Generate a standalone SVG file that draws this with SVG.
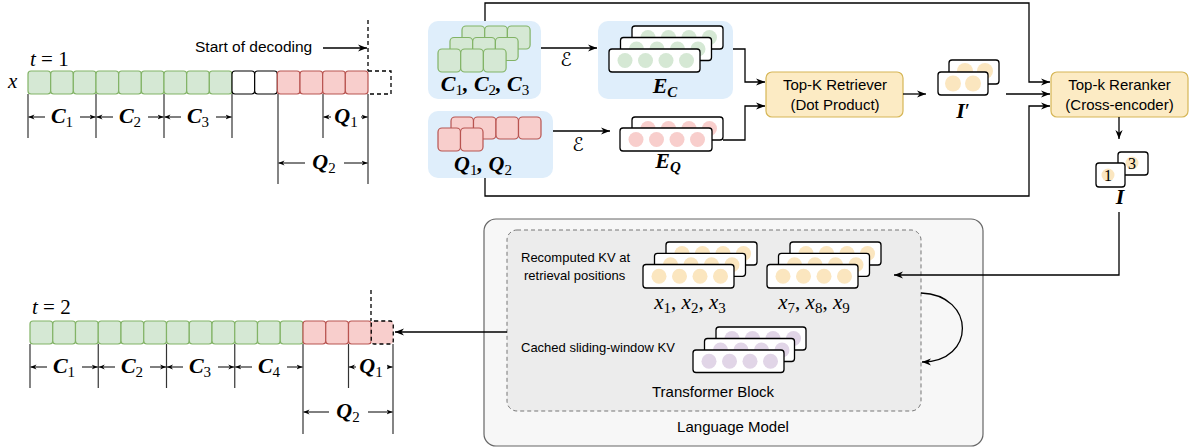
<svg xmlns="http://www.w3.org/2000/svg" width="1192" height="448" viewBox="0 0 1192 448">
<defs>
<marker id="ah" viewBox="0 0 10 10" refX="10" refY="5" markerWidth="9" markerHeight="9" markerUnits="userSpaceOnUse" orient="auto">
<path d="M0,1 L10,5 L0,9 L3,5 Z" fill="#000"/>
</marker>
<marker id="dh" viewBox="0 0 10 10" refX="10" refY="5" markerWidth="6" markerHeight="6" markerUnits="userSpaceOnUse" orient="auto">
<path d="M0,1 L10,5 L0,9 L3,5 Z" fill="#000"/>
</marker>
</defs>
<style>
.g{fill:#d5e8d4;stroke:#82b366;stroke-width:1.2}
.r{fill:#f8cecc;stroke:#b85450;stroke-width:1.2}
.w{fill:#fff;stroke:#000;stroke-width:1.2}
.dsh{fill:none;stroke:#000;stroke-width:1.3;stroke-dasharray:4,3}
.tick{stroke:#333;stroke-width:1.2}
.dim{stroke:#000;stroke-width:1;fill:none;marker-end:url(#dh)}
.m{font-family:"Liberation Serif","DejaVu Serif",serif;font-style:italic;font-weight:bold;font-size:22px;fill:#000}
.mi{font-family:"Liberation Serif","DejaVu Serif",serif;font-style:italic;font-size:21px;fill:#000}
.sub{font-style:normal;font-weight:normal;font-size:15px}
.subb{font-size:15px}
.up{font-style:normal;font-weight:normal}
.s{font-family:"Liberation Sans",Arial,sans-serif;fill:#000}
.c{stroke:#000;stroke-width:1.3;fill:none;marker-end:url(#ah)}
.blue{fill:#dfeefb;stroke:none}
.card{fill:#fff;stroke:#000;stroke-width:1.3}
.cg{fill:#d5e8d4}
.cr{fill:#f8cecc}
.cy{fill:#fbe6bf}
.cp{fill:#e1d5e7}
.box{fill:#fcebc4;stroke:#d6b656;stroke-width:1.2}
.eps{font-family:"DejaVu Sans",serif;font-size:19px}
</style>

<!-- t=1 sequence -->
<g id="seq1">
<text class="mi" x="8" y="88">x</text>
<text class="mi" x="30" y="66">t<tspan class="up"> = 1</tspan></text>
<text class="s" x="195" y="52" font-size="15.5">Start of decoding</text>
<line x1="368" y1="20" x2="368" y2="71" class="dsh" stroke-width="1"/>
<rect class="g" x="28" y="71" width="22.67" height="23" rx="3"/>
<rect class="g" x="50.67" y="71" width="22.67" height="23" rx="3"/>
<rect class="g" x="73.33" y="71" width="22.67" height="23" rx="3"/>
<rect class="g" x="96" y="71" width="22.67" height="23" rx="3"/>
<rect class="g" x="118.67" y="71" width="22.67" height="23" rx="3"/>
<rect class="g" x="141.33" y="71" width="22.67" height="23" rx="3"/>
<rect class="g" x="164" y="71" width="22.67" height="23" rx="3"/>
<rect class="g" x="186.67" y="71" width="22.67" height="23" rx="3"/>
<rect class="g" x="209.33" y="71" width="22.67" height="23" rx="3"/>
<rect class="w" x="232" y="71" width="22.67" height="23" rx="3"/>
<rect class="w" x="254.67" y="71" width="22.67" height="23" rx="3"/>
<rect class="r" x="277.33" y="71" width="22.67" height="23" rx="3"/>
<rect class="r" x="300" y="71" width="22.67" height="23" rx="3"/>
<rect class="r" x="322.67" y="71" width="22.67" height="23" rx="3"/>
<rect class="r" x="345.33" y="71" width="22.67" height="23" rx="3"/>
<path class="dsh" d="M368,71 H391 V94 H368"/>
<line class="tick" x1="28" y1="94" x2="28" y2="138"/>
<line class="tick" x1="96" y1="94" x2="96" y2="138"/>
<line class="tick" x1="164" y1="94" x2="164" y2="138"/>
<line class="tick" x1="232" y1="94" x2="232" y2="138"/>
<line class="tick" x1="323" y1="94" x2="323" y2="138"/>
<line class="tick" x1="278" y1="94" x2="278" y2="184"/>
<line class="tick" x1="368" y1="94" x2="368" y2="184"/>
<path class="dim" d="M45,117 H28.5"/><path class="dim" d="M80,117 H95.5"/>
<path class="dim" d="M113,117 H96.5"/><path class="dim" d="M148,117 H163.5"/>
<path class="dim" d="M181,117 H164.5"/><path class="dim" d="M216,117 H231.5"/>
<path class="dim" d="M331,117 H323.5"/><path class="dim" d="M361,117 H367.5"/>
<path class="dim" d="M305,163 H278.5"/><path class="dim" d="M344,163 H367.5"/>
<text class="m" x="62" y="123" text-anchor="middle">C<tspan class="sub" dy="4">1</tspan></text>
<text class="m" x="130" y="123" text-anchor="middle">C<tspan class="sub" dy="4">2</tspan></text>
<text class="m" x="198" y="123" text-anchor="middle">C<tspan class="sub" dy="4">3</tspan></text>
<text class="m" x="346" y="123" text-anchor="middle">Q<tspan class="sub" dy="4">1</tspan></text>
<text class="m" x="324" y="169" text-anchor="middle">Q<tspan class="sub" dy="4">2</tspan></text>
</g>

<!-- t=2 sequence -->
<g id="seq2">
<text class="mi" x="32" y="314">t<tspan class="up"> = 2</tspan></text>
<line x1="371" y1="290" x2="371" y2="321" class="dsh" stroke-width="1"/>
<rect class="g" x="30" y="321" width="22.75" height="23" rx="3"/>
<rect class="g" x="52.75" y="321" width="22.75" height="23" rx="3"/>
<rect class="g" x="75.5" y="321" width="22.75" height="23" rx="3"/>
<rect class="g" x="98.25" y="321" width="22.75" height="23" rx="3"/>
<rect class="g" x="121" y="321" width="22.75" height="23" rx="3"/>
<rect class="g" x="143.75" y="321" width="22.75" height="23" rx="3"/>
<rect class="g" x="166.5" y="321" width="22.75" height="23" rx="3"/>
<rect class="g" x="189.25" y="321" width="22.75" height="23" rx="3"/>
<rect class="g" x="212" y="321" width="22.75" height="23" rx="3"/>
<rect class="g" x="234.75" y="321" width="22.75" height="23" rx="3"/>
<rect class="g" x="257.5" y="321" width="22.75" height="23" rx="3"/>
<rect class="g" x="280.25" y="321" width="22.75" height="23" rx="3"/>
<rect class="r" x="303" y="321" width="22.75" height="23" rx="3"/>
<rect class="r" x="325.75" y="321" width="22.75" height="23" rx="3"/>
<rect class="r" x="348.5" y="321" width="22.75" height="23" rx="3"/>
<rect x="371.25" y="321" width="22" height="23" rx="3" fill="#f8cecc" stroke="#000" stroke-width="1.3" stroke-dasharray="4,3"/>
<line class="tick" x1="30" y1="344" x2="30" y2="388"/>
<line class="tick" x1="98.25" y1="344" x2="98.25" y2="388"/>
<line class="tick" x1="166.5" y1="344" x2="166.5" y2="388"/>
<line class="tick" x1="234.75" y1="344" x2="234.75" y2="388"/>
<line class="tick" x1="348.5" y1="344" x2="348.5" y2="388"/>
<line class="tick" x1="303" y1="344" x2="303" y2="434"/>
<line class="tick" x1="393" y1="344" x2="393" y2="434"/>
<path class="dim" d="M47,367 H30.5"/><path class="dim" d="M82,367 H97.75"/>
<path class="dim" d="M115,367 H98.75"/><path class="dim" d="M150,367 H166"/>
<path class="dim" d="M183,367 H167"/><path class="dim" d="M218,367 H234.25"/>
<path class="dim" d="M252,367 H235.25"/><path class="dim" d="M287,367 H302.5"/>
<path class="dim" d="M356,367 H349"/><path class="dim" d="M387,367 H392.5"/>
<path class="dim" d="M329,412 H303.5"/><path class="dim" d="M368,412 H392.5"/>
<text class="m" x="64" y="373" text-anchor="middle">C<tspan class="sub" dy="4">1</tspan></text>
<text class="m" x="132" y="373" text-anchor="middle">C<tspan class="sub" dy="4">2</tspan></text>
<text class="m" x="200" y="373" text-anchor="middle">C<tspan class="sub" dy="4">3</tspan></text>
<text class="m" x="269" y="373" text-anchor="middle">C<tspan class="sub" dy="4">4</tspan></text>
<text class="m" x="371" y="373" text-anchor="middle">Q<tspan class="sub" dy="4">1</tspan></text>
<text class="m" x="348" y="418" text-anchor="middle">Q<tspan class="sub" dy="4">2</tspan></text>
</g>

<!-- C chunks -->
<g id="chunks">
<rect class="blue" x="428" y="21" width="113" height="78" rx="10"/>
<rect class="g" x="462" y="26" width="22.7" height="23" rx="4"/>
<rect class="g" x="484.7" y="26" width="22.7" height="23" rx="4"/>
<rect class="g" x="507.4" y="26" width="22.7" height="23" rx="4"/>
<rect class="g" x="450" y="37.5" width="22.7" height="23" rx="4"/>
<rect class="g" x="472.7" y="37.5" width="22.7" height="23" rx="4"/>
<rect class="g" x="495.4" y="37.5" width="22.7" height="23" rx="4"/>
<rect class="g" x="438" y="49" width="22.7" height="23" rx="4"/>
<rect class="g" x="460.7" y="49" width="22.7" height="23" rx="4"/>
<rect class="g" x="483.4" y="49" width="22.7" height="23" rx="4"/>
<text class="m" x="485" y="91" text-anchor="middle">C<tspan class="sub" dy="4">1</tspan><tspan dy="-4">, C</tspan><tspan class="sub" dy="4">2</tspan><tspan dy="-4">, C</tspan><tspan class="sub" dy="4">3</tspan></text>
</g>

<!-- Q chunks -->
<g id="queries">
<rect class="blue" x="428" y="111" width="125" height="67" rx="10"/>
<rect class="r" x="451" y="117" width="22.5" height="22" rx="4"/>
<rect class="r" x="473.5" y="117" width="22.5" height="22" rx="4"/>
<rect class="r" x="496" y="117" width="22.5" height="22" rx="4"/>
<rect class="r" x="518.5" y="117" width="22.5" height="22" rx="4"/>
<rect class="r" x="438" y="128" width="22.5" height="23" rx="4"/>
<rect class="r" x="460.5" y="128" width="22.5" height="23" rx="4"/>
<text class="m" x="483" y="171" text-anchor="middle">Q<tspan class="sub" dy="4">1</tspan><tspan dy="-4">, Q</tspan><tspan class="sub" dy="4">2</tspan></text>
</g>

<!-- E_C -->
<g id="ec">
<rect class="blue" x="598" y="21" width="135" height="78" rx="10"/>
<rect class="card" x="632" y="26" width="91" height="23" rx="3"/>
<circle class="cg" cx="648" cy="37.5" r="7.5"/><circle class="cg" cx="668.5" cy="37.5" r="7.5"/><circle class="cg" cx="689" cy="37.5" r="7.5"/><circle class="cg" cx="709.5" cy="37.5" r="7.5"/>
<rect class="card" x="620.5" y="37.5" width="91" height="23" rx="3"/>
<circle class="cg" cx="636.5" cy="49" r="7.5"/><circle class="cg" cx="657" cy="49" r="7.5"/><circle class="cg" cx="677.5" cy="49" r="7.5"/><circle class="cg" cx="698" cy="49" r="7.5"/>
<rect class="card" x="609" y="49" width="91" height="23" rx="3"/>
<circle class="cg" cx="625" cy="60.5" r="7.5"/><circle class="cg" cx="645.5" cy="60.5" r="7.5"/><circle class="cg" cx="666" cy="60.5" r="7.5"/><circle class="cg" cx="686.5" cy="60.5" r="7.5"/>
<text class="m" x="665" y="93" text-anchor="middle">E<tspan class="subb" dy="4">C</tspan></text>
</g>

<!-- E_Q -->
<g id="eq">
<rect class="card" x="632" y="117" width="91" height="23" rx="3"/>
<circle class="cr" cx="648" cy="128.5" r="7.5"/><circle class="cr" cx="668.5" cy="128.5" r="7.5"/><circle class="cr" cx="689" cy="128.5" r="7.5"/><circle class="cr" cx="709.5" cy="128.5" r="7.5"/>
<rect class="card" x="620" y="128" width="92" height="23" rx="3"/>
<circle class="cr" cx="636" cy="139.5" r="7.5"/><circle class="cr" cx="656.5" cy="139.5" r="7.5"/><circle class="cr" cx="677" cy="139.5" r="7.5"/><circle class="cr" cx="697.5" cy="139.5" r="7.5"/>
<text class="m" x="668" y="168" text-anchor="middle">E<tspan class="subb" dy="4">Q</tspan></text>
</g>

<!-- Retriever -->
<g id="retriever">
<rect class="box" x="766" y="72" width="137" height="45" rx="6"/>
<text class="s" x="835" y="90" font-size="15" text-anchor="middle">Top-K Retriever</text>
<text class="s" x="835" y="110" font-size="15" text-anchor="middle">(Dot Product)</text>
</g>

<!-- I' -->
<g id="iprime">
<rect class="card" x="949" y="60" width="50" height="24" rx="3"/>
<circle class="cy" cx="965" cy="71" r="8"/><circle class="cy" cx="985" cy="71" r="8"/>
<rect class="card" x="938" y="72" width="50" height="23" rx="3"/>
<circle class="cy" cx="953" cy="83.5" r="8"/><circle class="cy" cx="973" cy="83.5" r="8"/>
<text class="m" x="963" y="118" text-anchor="middle">I<tspan class="up">′</tspan></text>
</g>

<!-- Reranker -->
<g id="reranker">
<rect class="box" x="1051" y="72" width="137" height="45" rx="6"/>
<text class="s" x="1119.5" y="90" font-size="15" text-anchor="middle">Top-k Reranker</text>
<text class="s" x="1119.5" y="110" font-size="15" text-anchor="middle">(Cross-encoder)</text>
</g>

<!-- I -->
<g id="iout">
<rect class="card" x="1118" y="152" width="30" height="23" rx="3"/>
<circle class="cy" cx="1132" cy="163" r="6.5"/>
<text x="1132" y="168.5" font-family="Liberation Serif,serif" font-size="16" text-anchor="middle">3</text>
<rect class="card" x="1096" y="163" width="29" height="24" rx="3"/>
<circle class="cy" cx="1108" cy="175" r="6.5"/>
<text x="1108" y="180.5" font-family="Liberation Serif,serif" font-size="16" text-anchor="middle">1</text>
<text class="m" x="1120" y="204" text-anchor="middle">I</text>
</g>

<!-- Language model -->
<g id="lm">
<rect x="484" y="219" width="499" height="227" rx="12" fill="#f7f7f7" stroke="#666" stroke-width="1.2"/>
<text class="s" x="733" y="432" font-size="15" text-anchor="middle" fill="#111">Language Model</text>
</g>
<g id="tblock">
<rect x="507" y="230" width="414" height="181" rx="10" fill="#ececec" stroke="#777" stroke-width="1" stroke-dasharray="4,3"/>
<text class="s" x="521" y="262" font-size="13">Recomputed KV at</text>
<text class="s" x="524" y="280" font-size="13">retrieval positions</text>
<text class="s" x="521" y="352" font-size="13">Cached sliding-window KV</text>
<text class="s" x="713" y="397" font-size="15" text-anchor="middle">Transformer Block</text>
</g>
<g id="kv1">
<rect class="card" x="666" y="242" width="91" height="23" rx="3"/>
<circle class="cy" cx="682" cy="253.5" r="7.5"/><circle class="cy" cx="702.5" cy="253.5" r="7.5"/><circle class="cy" cx="723" cy="253.5" r="7.5"/><circle class="cy" cx="743.5" cy="253.5" r="7.5"/>
<rect class="card" x="654.5" y="253.3" width="91" height="23" rx="3"/>
<circle class="cy" cx="670.5" cy="264.8" r="7.5"/><circle class="cy" cx="691" cy="264.8" r="7.5"/><circle class="cy" cx="711.5" cy="264.8" r="7.5"/><circle class="cy" cx="732" cy="264.8" r="7.5"/>
<rect class="card" x="643" y="264.5" width="91" height="23.5" rx="3"/>
<circle class="cy" cx="659" cy="276.2" r="7.5"/><circle class="cy" cx="679.5" cy="276.2" r="7.5"/><circle class="cy" cx="700" cy="276.2" r="7.5"/><circle class="cy" cx="720.5" cy="276.2" r="7.5"/>
<text class="mi" x="690" y="309" text-anchor="middle">x<tspan class="sub" dy="4">1</tspan><tspan class="up" dy="-4">, </tspan>x<tspan class="sub" dy="4">2</tspan><tspan class="up" dy="-4">, </tspan>x<tspan class="sub" dy="4">3</tspan></text>
</g>
<g id="kv2">
<rect class="card" x="790" y="242" width="91" height="23" rx="3"/>
<circle class="cy" cx="806" cy="253.5" r="7.5"/><circle class="cy" cx="826.5" cy="253.5" r="7.5"/><circle class="cy" cx="847" cy="253.5" r="7.5"/><circle class="cy" cx="867.5" cy="253.5" r="7.5"/>
<rect class="card" x="778.5" y="253.3" width="91" height="23" rx="3"/>
<circle class="cy" cx="794.5" cy="264.8" r="7.5"/><circle class="cy" cx="815" cy="264.8" r="7.5"/><circle class="cy" cx="835.5" cy="264.8" r="7.5"/><circle class="cy" cx="856" cy="264.8" r="7.5"/>
<rect class="card" x="767" y="264.5" width="91" height="23.5" rx="3"/>
<circle class="cy" cx="783" cy="276.2" r="7.5"/><circle class="cy" cx="803.5" cy="276.2" r="7.5"/><circle class="cy" cx="824" cy="276.2" r="7.5"/><circle class="cy" cx="844.5" cy="276.2" r="7.5"/>
<text class="mi" x="814" y="309" text-anchor="middle">x<tspan class="sub" dy="4">7</tspan><tspan class="up" dy="-4">, </tspan>x<tspan class="sub" dy="4">8</tspan><tspan class="up" dy="-4">, </tspan>x<tspan class="sub" dy="4">9</tspan></text>
</g>
<g id="kvcache">
<rect class="card" x="716" y="327" width="90" height="23" rx="3"/>
<circle class="cp" cx="732" cy="338.5" r="7.5"/><circle class="cp" cx="752.5" cy="338.5" r="7.5"/><circle class="cp" cx="773" cy="338.5" r="7.5"/><circle class="cp" cx="793.5" cy="338.5" r="7.5"/>
<rect class="card" x="704.5" y="338.5" width="90" height="23" rx="3"/>
<circle class="cp" cx="720.5" cy="350" r="7.5"/><circle class="cp" cx="741" cy="350" r="7.5"/><circle class="cp" cx="761.5" cy="350" r="7.5"/><circle class="cp" cx="782" cy="350" r="7.5"/>
<rect class="card" x="693" y="350" width="91" height="22.5" rx="3"/>
<circle class="cp" cx="709" cy="361.3" r="7.5"/><circle class="cp" cx="729.5" cy="361.3" r="7.5"/><circle class="cp" cx="750" cy="361.3" r="7.5"/><circle class="cp" cx="770.5" cy="361.3" r="7.5"/>
</g>

<!-- connectors -->
<g id="connectors">
<path class="c" d="M323,48 H367"/>
<path class="c" d="M541,48 H597"/>
<text class="eps" x="566" y="66" text-anchor="middle">ℰ</text>
<path class="c" d="M553,131 H610"/>
<text class="eps" x="578" y="151" text-anchor="middle">ℰ</text>
<path class="c" d="M485,21 V3 H1029 V82 H1050"/>
<path class="c" d="M485,178 V196 H1029 V106 H1050"/>
<path class="c" d="M733,49 H745 V82 H765"/>
<path class="c" d="M723,140 H745 V106 H765"/>
<path class="c" d="M903,94 H926"/>
<path class="c" d="M1006,94 H1050"/>
<path class="c" d="M1119,117 V139"/>
<path class="c" d="M1119,212 V275 H894"/>
<path class="c" d="M507,332 H395"/>
<path class="c" d="M921,293 C976,295 976,362 922,362"/>
</g>
</svg>
